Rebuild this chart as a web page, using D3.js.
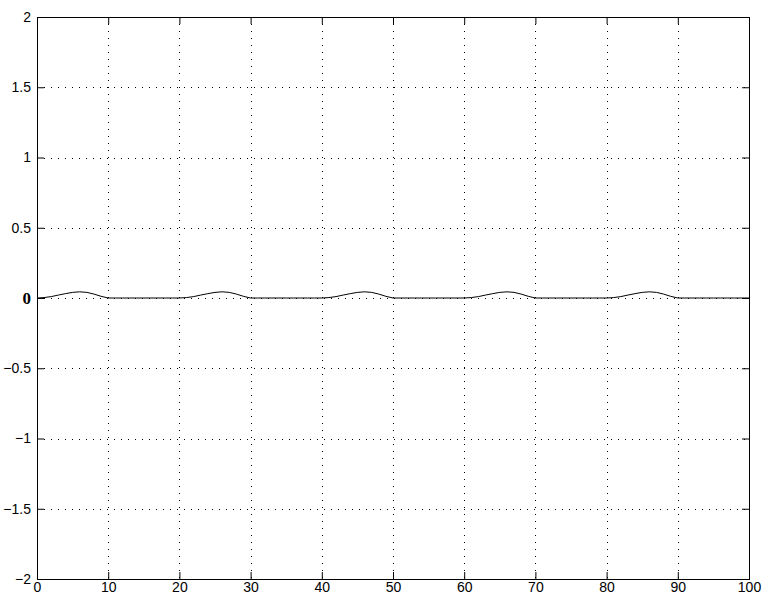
<!DOCTYPE html>
<html>
<head>
<meta charset="utf-8">
<script src="https://cdn.jsdelivr.net/npm/d3@7"></script>
<style>
html,body{margin:0;padding:0;background:#fff;}
svg{display:block;}
</style>
</head>
<body>
<svg id="chart" width="770" height="599"></svg>
<script>
// Data
const xValues = d3.range(0, 101); // 0..100 step 1
const yValues = [
  0, 0.003, 0.010, 0.021, 0.031, 0.040, 0.044, 0.040, 0.028, 0.012,
  0, 0, 0, 0, 0, 0, 0, 0, 0, 0,
  0, 0.003, 0.010, 0.021, 0.031, 0.040, 0.044, 0.040, 0.028, 0.012,
  0, 0, 0, 0, 0, 0, 0, 0, 0, 0,
  0, 0.003, 0.010, 0.021, 0.031, 0.040, 0.044, 0.040, 0.028, 0.012,
  0, 0, 0, 0, 0, 0, 0, 0, 0, 0,
  0, 0.003, 0.010, 0.021, 0.031, 0.040, 0.044, 0.040, 0.028, 0.012,
  0, 0, 0, 0, 0, 0, 0, 0, 0, 0,
  0, 0.003, 0.010, 0.021, 0.031, 0.040, 0.044, 0.040, 0.028, 0.012,
  0, 0, 0, 0, 0, 0, 0, 0, 0, 0,
  0
];
const xTicks = [0, 10, 20, 30, 40, 50, 60, 70, 80, 90, 100];
const yTicks = [-2, -1.5, -1, -0.5, 0, 0.5, 1, 1.5, 2];
const yTickLabels = ["\u22122", "\u22121.5", "\u22121", "\u22120.5", "0", "0.5", "1", "1.5", "2"];

const svg = d3.select("#chart");
const L = 37, R = 749, T = 17, B = 579;
const x = d3.scaleLinear().domain([0, 100]).range([L, R]);
const y = d3.scaleLinear().domain([-2, 2]).range([B, T]);
const font = "'Liberation Sans', Arial, Helvetica, sans-serif";

// grid
const grid = svg.append("g").attr("stroke", "#000").attr("stroke-width", 1)
  .attr("stroke-dasharray", "1,6").attr("shape-rendering", "crispEdges");
grid.selectAll("line.vx").data(xTicks.slice(1, -1)).join("line")
  .attr("x1", d => Math.round(x(d)) + 0.5).attr("x2", d => Math.round(x(d)) + 0.5)
  .attr("y1", T).attr("y2", B);
grid.selectAll("line.hy").data(yTicks.slice(1, -1)).join("line")
  .attr("y1", d => Math.round(y(d)) + 0.5).attr("y2", d => Math.round(y(d)) + 0.5)
  .attr("x1", L).attr("x2", R);

// data line
const line = d3.line().x((d, i) => x(xValues[i])).y(d => y(d));
svg.append("path").datum(yValues).attr("d", line)
  .attr("fill", "none").attr("stroke", "#000").attr("stroke-width", 1);

// axes (ticks inward on all four sides)
const tk = 7;
const gB = svg.append("g").attr("transform", `translate(0,${B})`)
  .call(d3.axisBottom(x).tickValues(xTicks).tickSize(-tk).tickPadding(3).tickFormat(d3.format("d")));
const gT = svg.append("g").attr("transform", `translate(0,${T})`)
  .call(d3.axisTop(x).tickValues(xTicks).tickSize(-tk).tickFormat(""));
const gL = svg.append("g").attr("transform", `translate(${L},0)`)
  .call(d3.axisLeft(y).tickValues(yTicks).tickSize(-tk).tickPadding(6)
    .tickFormat((d, i) => yTickLabels[i]));
const gR = svg.append("g").attr("transform", `translate(${R},0)`)
  .call(d3.axisRight(y).tickValues(yTicks).tickSize(-tk).tickFormat(""));

[gB, gT, gL, gR].forEach(g => {
  g.select(".domain").remove();
  g.selectAll(".tick line").attr("stroke", "#000");
  g.selectAll("text").attr("fill", "#000").style("font-family", font).style("font-size", "14px");
});
// the "0" label on the y axis is rendered in a bold serif face in the reference
gL.selectAll(".tick text").filter(d => d === 0)
  .style("font-family", "'Liberation Serif', 'Times New Roman', serif")
  .style("font-weight", "bold").style("font-size", "17px");

// box
svg.append("rect").attr("x", L + 0.5).attr("y", T + 0.5)
  .attr("width", R - L).attr("height", B - T)
  .attr("fill", "none").attr("stroke", "#000").attr("stroke-width", 1)
  .attr("shape-rendering", "crispEdges");
</script>
</body>
</html>
